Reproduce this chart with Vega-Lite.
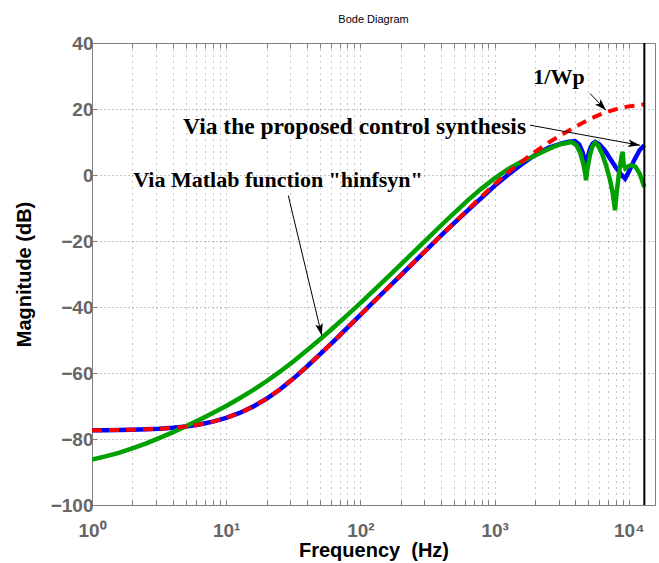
{
  "$schema": "https://vega.github.io/schema/vega-lite/v6.json",
  "width": 563,
  "height": 462,
  "autosize": {"type": "none"},
  "padding": {"left": 92, "top": 43, "right": 4, "bottom": 58},
  "background": "white",
  "title": {"text": "Bode Diagram", "font": "Liberation Sans", "fontSize": 11, "fontWeight": "normal", "color": "#000000", "offset": 9},
  "config": {"view": {"stroke": "#7f7f7f", "strokeWidth": 1}},
  "resolve": {"axis": {"x": "independent", "y": "independent"}},
  "datasets": {
    "curves": [
      {"s": "r", "f": 1, "db": -77.35}, {"s": "r", "f": 1.259, "db": -77.32}, {"s": "r", "f": 1.585, "db": -77.27},
      {"s": "r", "f": 1.995, "db": -77.2}, {"s": "r", "f": 2.512, "db": -77.08}, {"s": "r", "f": 3.162, "db": -76.9},
      {"s": "r", "f": 3.981, "db": -76.62}, {"s": "r", "f": 5.012, "db": -76.2}, {"s": "r", "f": 6.31, "db": -75.6},
      {"s": "r", "f": 7.943, "db": -74.75}, {"s": "r", "f": 10, "db": -73.6}, {"s": "r", "f": 12.59, "db": -72.1},
      {"s": "r", "f": 15.85, "db": -70.2}, {"s": "r", "f": 19.95, "db": -67.8}, {"s": "r", "f": 25.12, "db": -65.0},
      {"s": "r", "f": 31.62, "db": -61.7}, {"s": "r", "f": 39.81, "db": -58.1}, {"s": "r", "f": 50.12, "db": -54.3},
      {"s": "r", "f": 63.1, "db": -50.4}, {"s": "r", "f": 79.43, "db": -46.4}, {"s": "r", "f": 100, "db": -42.4},
      {"s": "r", "f": 125.9, "db": -38.4}, {"s": "r", "f": 158.5, "db": -34.4}, {"s": "r", "f": 199.5, "db": -30.4},
      {"s": "r", "f": 251.2, "db": -26.4}, {"s": "r", "f": 316.2, "db": -22.4}, {"s": "r", "f": 398.1, "db": -18.4},
      {"s": "r", "f": 501.2, "db": -14.4}, {"s": "r", "f": 631, "db": -10.5}, {"s": "r", "f": 794.3, "db": -6.6},
      {"s": "r", "f": 1000, "db": -2.8}, {"s": "r", "f": 1259, "db": 0.8}, {"s": "r", "f": 1585, "db": 4.0},
      {"s": "r", "f": 1995, "db": 7.0}, {"s": "r", "f": 2512, "db": 9.8}, {"s": "r", "f": 3162, "db": 12.2},
      {"s": "r", "f": 3981, "db": 14.6}, {"s": "r", "f": 5012, "db": 16.8}, {"s": "r", "f": 6310, "db": 18.6},
      {"s": "r", "f": 7943, "db": 19.9}, {"s": "r", "f": 10000, "db": 20.8}, {"s": "r", "f": 13050, "db": 21.4},

      {"s": "b", "f": 1, "db": -77.35}, {"s": "b", "f": 1.259, "db": -77.32}, {"s": "b", "f": 1.585, "db": -77.27},
      {"s": "b", "f": 1.995, "db": -77.2}, {"s": "b", "f": 2.512, "db": -77.08}, {"s": "b", "f": 3.162, "db": -76.9},
      {"s": "b", "f": 3.981, "db": -76.62}, {"s": "b", "f": 5.012, "db": -76.2}, {"s": "b", "f": 6.31, "db": -75.6},
      {"s": "b", "f": 7.943, "db": -74.75}, {"s": "b", "f": 10, "db": -73.6}, {"s": "b", "f": 12.59, "db": -72.1},
      {"s": "b", "f": 15.85, "db": -70.2}, {"s": "b", "f": 19.95, "db": -67.8}, {"s": "b", "f": 25.12, "db": -65.0},
      {"s": "b", "f": 31.62, "db": -61.7}, {"s": "b", "f": 39.81, "db": -58.1}, {"s": "b", "f": 50.12, "db": -54.3},
      {"s": "b", "f": 63.1, "db": -50.4}, {"s": "b", "f": 79.43, "db": -46.4}, {"s": "b", "f": 100, "db": -42.4},
      {"s": "b", "f": 125.9, "db": -38.4}, {"s": "b", "f": 158.5, "db": -34.4}, {"s": "b", "f": 199.5, "db": -30.4},
      {"s": "b", "f": 251.2, "db": -26.4}, {"s": "b", "f": 316.2, "db": -22.4}, {"s": "b", "f": 398.1, "db": -18.4},
      {"s": "b", "f": 501.2, "db": -14.5}, {"s": "b", "f": 631, "db": -10.7}, {"s": "b", "f": 794.3, "db": -7.0},
      {"s": "b", "f": 1000, "db": -3.3}, {"s": "b", "f": 1259, "db": 0.1}, {"s": "b", "f": 1585, "db": 3.2},
      {"s": "b", "f": 1995, "db": 6.0}, {"s": "b", "f": 2512, "db": 8.2}, {"s": "b", "f": 3162, "db": 9.6},
      {"s": "b", "f": 3548, "db": 10.1}, {"s": "b", "f": 3972, "db": 10.3}, {"s": "b", "f": 4266, "db": 9.3},
      {"s": "b", "f": 4519, "db": 7.0}, {"s": "b", "f": 4699, "db": 4.5}, {"s": "b", "f": 4797, "db": 3.5},
      {"s": "b", "f": 4898, "db": 4.8}, {"s": "b", "f": 5129, "db": 7.8}, {"s": "b", "f": 5370, "db": 9.5},
      {"s": "b", "f": 5598, "db": 10.0}, {"s": "b", "f": 6026, "db": 9.3}, {"s": "b", "f": 6607, "db": 7.5},
      {"s": "b", "f": 7244, "db": 5.0}, {"s": "b", "f": 7943, "db": 2.5}, {"s": "b", "f": 8710, "db": 0.3},
      {"s": "b", "f": 9376, "db": -1.1}, {"s": "b", "f": 10000, "db": 1.0}, {"s": "b", "f": 10965, "db": 4.5},
      {"s": "b", "f": 12023, "db": 7.5}, {"s": "b", "f": 13050, "db": 9.0},

      {"s": "g", "f": 1, "db": -86.2}, {"s": "g", "f": 1.259, "db": -85.25}, {"s": "g", "f": 1.585, "db": -84.2},
      {"s": "g", "f": 1.995, "db": -82.85}, {"s": "g", "f": 2.512, "db": -81.4}, {"s": "g", "f": 3.162, "db": -79.75},
      {"s": "g", "f": 3.981, "db": -78.0}, {"s": "g", "f": 5.012, "db": -76.15}, {"s": "g", "f": 6.31, "db": -74.2},
      {"s": "g", "f": 7.943, "db": -72.15}, {"s": "g", "f": 10, "db": -70.0}, {"s": "g", "f": 12.59, "db": -67.65},
      {"s": "g", "f": 15.85, "db": -65.2}, {"s": "g", "f": 19.95, "db": -62.5}, {"s": "g", "f": 25.12, "db": -59.6},
      {"s": "g", "f": 31.62, "db": -56.5}, {"s": "g", "f": 39.81, "db": -53.2}, {"s": "g", "f": 50.12, "db": -49.75},
      {"s": "g", "f": 63.1, "db": -46.2}, {"s": "g", "f": 79.43, "db": -42.55}, {"s": "g", "f": 100, "db": -38.8},
      {"s": "g", "f": 125.9, "db": -34.95}, {"s": "g", "f": 158.5, "db": -31.1}, {"s": "g", "f": 199.5, "db": -27.15},
      {"s": "g", "f": 251.2, "db": -23.2}, {"s": "g", "f": 316.2, "db": -19.25}, {"s": "g", "f": 398.1, "db": -15.3},
      {"s": "g", "f": 501.2, "db": -11.5}, {"s": "g", "f": 631, "db": -7.7}, {"s": "g", "f": 794.3, "db": -4.2},
      {"s": "g", "f": 1000, "db": -1.0}, {"s": "g", "f": 1259, "db": 1.8}, {"s": "g", "f": 1585, "db": 4.0},
      {"s": "g", "f": 1937, "db": 5.6}, {"s": "g", "f": 2239, "db": 6.9}, {"s": "g", "f": 2735, "db": 8.5},
      {"s": "g", "f": 3162, "db": 9.4}, {"s": "g", "f": 3750, "db": 10.0}, {"s": "g", "f": 4074, "db": 9.0},
      {"s": "g", "f": 4365, "db": 6.5}, {"s": "g", "f": 4571, "db": 3.5}, {"s": "g", "f": 4732, "db": 0.5},
      {"s": "g", "f": 4797, "db": -1.6}, {"s": "g", "f": 4898, "db": 1.5}, {"s": "g", "f": 5129, "db": 6.0},
      {"s": "g", "f": 5370, "db": 8.8}, {"s": "g", "f": 5598, "db": 9.7}, {"s": "g", "f": 5888, "db": 9.0},
      {"s": "g", "f": 6310, "db": 6.5}, {"s": "g", "f": 6761, "db": 3.0}, {"s": "g", "f": 7244, "db": -1.5},
      {"s": "g", "f": 7586, "db": -5.5}, {"s": "g", "f": 7889, "db": -10.7}, {"s": "g", "f": 8128, "db": -5.0},
      {"s": "g", "f": 8511, "db": 1.5}, {"s": "g", "f": 8810, "db": 5.5}, {"s": "g", "f": 8995, "db": 7.0},
      {"s": "g", "f": 9162, "db": 3.0}, {"s": "g", "f": 9441, "db": 2.0}, {"s": "g", "f": 9772, "db": 2.5},
      {"s": "g", "f": 10471, "db": 3.0}, {"s": "g", "f": 11220, "db": 2.5}, {"s": "g", "f": 12023, "db": 0.5},
      {"s": "g", "f": 13050, "db": -3.6}
    ],
    "notes": [
      {"f": 1942, "db": 29.7, "t": "1/Wp", "k": "a"},
      {"f": 4.77, "db": 14.5, "t": "Via the proposed control synthesis", "k": "b"},
      {"f": 2.03, "db": -1.6, "t": "Via Matlab function \"hinfsyn\"", "k": "a"}
    ],
    "arrows": [
      {"a": "m", "f": 29.0, "db": -6.2, "tip": 0}, {"a": "m", "f": 51.5, "db": -48.6, "tip": 1},
      {"a": "s", "f": 1836, "db": 15.1, "tip": 0}, {"a": "s", "f": 12110, "db": 9.0, "tip": 1},
      {"a": "w", "f": 5140, "db": 24.7, "tip": 0}, {"a": "w", "f": 6761, "db": 19.6, "tip": 1}
    ],
    "nyq": [{"f": 13050}]
  },
  "layer": [
    {
      "data": {"name": "curves"},
      "transform": [{"filter": "datum.s == 'b'"}],
      "mark": {"type": "line", "color": "#0000ff", "strokeWidth": 4.5, "clip": true},
      "encoding": {
        "x": {
          "field": "f", "type": "quantitative",
          "scale": {"type": "log", "domain": [1, 15670], "nice": false},
          "axis": {
            "orient": "bottom",
            "values": [1,2,3,4,5,6,7,8,9,10,20,30,40,50,60,70,80,90,100,200,300,400,500,600,700,800,900,1000,2000,3000,4000,5000,6000,7000,8000,9000,10000],
            "labelExpr": "datum.value == 1 ? '10⁰' : datum.value == 10 ? '10¹' : datum.value == 100 ? '10²' : datum.value == 1000 ? '10³' : datum.value == 10000 ? '10⁴' : ''",
            "grid": true, "gridColor": "#8c8c8c", "gridDash": [1, 5], "gridWidth": 1,
            "tickSize": -5, "tickColor": "#7f7f7f", "domainColor": "#7f7f7f",
            "labelFont": "Liberation Sans", "labelFontWeight": "bold", "labelFontSize": 19, "labelColor": "#666666",
            "labelBaseline": "alphabetic", "labelPadding": 36, "labelFlush": false, "labelOverlap": false, "labelBound": false,
            "title": "Frequency\u00a0 (Hz)", "titleFont": "Liberation Sans", "titleFontSize": 20, "titleFontWeight": "bold", "titleColor": "#000000",
            "titleY": 45, "titleBaseline": "middle"
          }
        },
        "y": {
          "field": "db", "type": "quantitative",
          "scale": {"domain": [-100, 40], "nice": false, "zero": false},
          "axis": {
            "values": [-100, -80, -60, -40, -20, 0, 20, 40],
            "grid": true, "gridColor": "#8c8c8c", "gridDash": [1, 3], "gridWidth": 1,
            "tickSize": -5, "tickColor": "#7f7f7f", "domainColor": "#7f7f7f",
            "labelFont": "Liberation Sans", "labelFontWeight": "bold", "labelFontSize": 19, "labelColor": "#666666",
            "labelPadding": 4, "labelOverlap": false, "labelBound": false, "labelFlush": false,
            "title": "Magnitude (dB)", "titleFont": "Liberation Sans", "titleFontSize": 20, "titleFontWeight": "bold", "titleColor": "#000000",
            "titleX": -68, "titleY": 231, "titleAngle": -90, "titleAlign": "center", "titleBaseline": "middle"
          }
        }
      }
    },
    {
      "data": {"name": "curves"},
      "transform": [{"filter": "datum.s == 'g'"}],
      "mark": {"type": "line", "color": "#00a000", "strokeWidth": 4.5, "clip": true},
      "encoding": {
        "x": {"field": "f", "type": "quantitative", "axis": null},
        "y": {"field": "db", "type": "quantitative", "axis": null}
      }
    },
    {
      "data": {"name": "curves"},
      "transform": [{"filter": "datum.s == 'r'"}],
      "mark": {"type": "line", "color": "#ff0000", "strokeWidth": 4, "strokeDash": [10, 7], "clip": true},
      "encoding": {
        "x": {
          "field": "f", "type": "quantitative",
          "axis": {
            "orient": "top",
            "values": [1,2,3,4,5,6,7,8,9,10,20,30,40,50,60,70,80,90,100,200,300,400,500,600,700,800,900,1000,2000,3000,4000,5000,6000,7000,8000,9000,10000],
            "labels": false, "grid": false, "domain": false, "tickSize": -5, "tickColor": "#7f7f7f", "title": null
          }
        },
        "y": {"field": "db", "type": "quantitative", "axis": null}
      }
    },
    {
      "data": {"name": "nyq"},
      "mark": {"type": "rule", "color": "#000000", "strokeWidth": 2},
      "encoding": {
        "x": {"field": "f", "type": "quantitative", "axis": null}
      }
    },
    {
      "data": {"name": "notes"},
      "transform": [{"filter": "datum.k == 'a'"}],
      "mark": {"type": "text", "font": "Liberation Serif", "fontWeight": "bold", "fontSize": 22, "align": "left", "baseline": "middle", "color": "#000000"},
      "encoding": {
        "x": {"field": "f", "type": "quantitative", "axis": null},
        "y": {"field": "db", "type": "quantitative", "axis": null},
        "text": {"field": "t"}
      }
    },
    {
      "data": {"name": "notes"},
      "transform": [{"filter": "datum.k == 'b'"}],
      "mark": {"type": "text", "font": "Liberation Serif", "fontWeight": "bold", "fontSize": 23.5, "align": "left", "baseline": "middle", "color": "#000000"},
      "encoding": {
        "x": {"field": "f", "type": "quantitative", "axis": null},
        "y": {"field": "db", "type": "quantitative", "axis": null},
        "text": {"field": "t"}
      }
    },
    {
      "data": {"name": "arrows"},
      "mark": {"type": "line", "color": "#000000", "strokeWidth": 1},
      "encoding": {
        "x": {"field": "f", "type": "quantitative", "axis": null},
        "y": {"field": "db", "type": "quantitative", "axis": null},
        "detail": {"field": "a"}
      }
    },
    {
      "data": {"name": "arrows"},
      "transform": [{"filter": "datum.a == 'm' && datum.tip == 1"}],
      "mark": {"type": "point", "shape": "M0,0L-0.55,1.7L0,1.3L0.55,1.7Z", "filled": true, "color": "#000000", "opacity": 1, "size": 196, "angle": 166.6},
      "encoding": {
        "x": {"field": "f", "type": "quantitative", "axis": null},
        "y": {"field": "db", "type": "quantitative", "axis": null}
      }
    },
    {
      "data": {"name": "arrows"},
      "transform": [{"filter": "datum.a == 's' && datum.tip == 1"}],
      "mark": {"type": "point", "shape": "M0,0L-0.55,1.7L0,1.3L0.55,1.7Z", "filled": true, "color": "#000000", "opacity": 1, "size": 196, "angle": 100.3},
      "encoding": {
        "x": {"field": "f", "type": "quantitative", "axis": null},
        "y": {"field": "db", "type": "quantitative", "axis": null}
      }
    },
    {
      "data": {"name": "arrows"},
      "transform": [{"filter": "datum.a == 'w' && datum.tip == 1"}],
      "mark": {"type": "point", "shape": "M0,0L-0.55,1.7L0,1.3L0.55,1.7Z", "filled": true, "color": "#000000", "opacity": 1, "size": 196, "angle": 136.2},
      "encoding": {
        "x": {"field": "f", "type": "quantitative", "axis": null},
        "y": {"field": "db", "type": "quantitative", "axis": null}
      }
    }
  ]
}
